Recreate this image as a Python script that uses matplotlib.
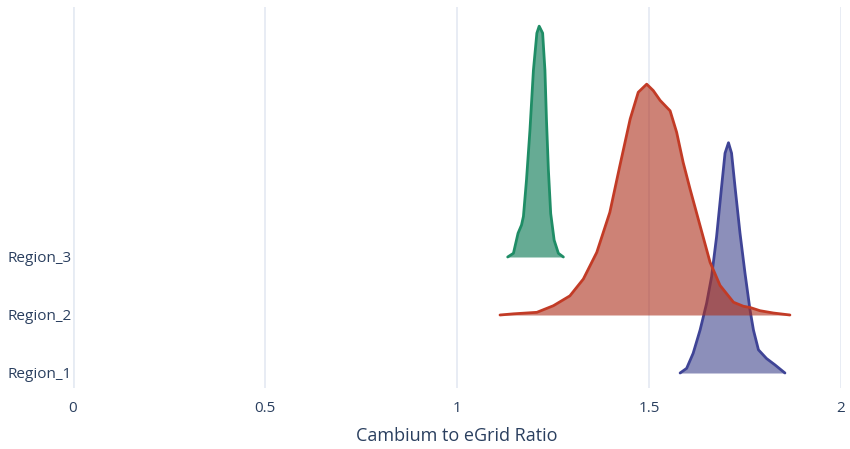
import matplotlib
matplotlib.use("Agg")
import matplotlib.pyplot as plt

categories = ["Region_1", "Region_2", "Region_3"]

# density outlines (x value, ridge height in category units)
r1_x = [1.581, 1.598, 1.615, 1.633, 1.650, 1.663, 1.676, 1.689, 1.698, 1.707,
        1.715, 1.724, 1.737, 1.750, 1.763, 1.772, 1.785, 1.806, 1.828, 1.854]
r1_h = [0.0, 0.08, 0.34, 0.74, 1.20, 1.66, 2.35, 3.21, 3.79, 3.97,
        3.79, 3.21, 2.41, 1.72, 1.09, 0.74, 0.40, 0.25, 0.14, 0.0]

r2_x = [1.112, 1.147, 1.208, 1.251, 1.294, 1.329, 1.364, 1.398, 1.424, 1.451,
        1.472, 1.494, 1.511, 1.529, 1.555, 1.572, 1.589, 1.607, 1.633, 1.659,
        1.685, 1.720, 1.746, 1.763, 1.789, 1.824, 1.867]
r2_h = [0.0, 0.02, 0.046, 0.16, 0.33, 0.62, 1.08, 1.77, 2.57, 3.38,
        3.84, 3.98, 3.87, 3.70, 3.52, 3.15, 2.63, 2.17, 1.54, 0.91,
        0.51, 0.22, 0.15, 0.13, 0.074, 0.034, 0.0]

r3_x = [1.132, 1.147, 1.159, 1.168, 1.173, 1.181, 1.190, 1.199, 1.208, 1.214,
        1.223, 1.229, 1.233, 1.238, 1.244, 1.253, 1.264, 1.277]
r3_h = [0.0, 0.064, 0.41, 0.55, 0.70, 1.33, 2.19, 3.22, 3.86, 3.98,
        3.86, 3.22, 2.36, 1.50, 0.75, 0.29, 0.064, 0.0]

xticks = [0, 0.5, 1, 1.5, 2]
xtick_labels = ["0", "0.5", "1", "1.5", "2"]
x_title = "Cambium to eGrid Ratio"

series = [(r1_x, r1_h), (r2_x, r2_h), (r3_x, r3_h)]
line_colors = ["#3f4496", "#c23b26", "#1f8d66"]
fill_colors = ["#3f448c", "#ac2f1b", "#00744d"]

plt.rcParams['font.family'] = ['Open Sans', 'DejaVu Sans']
fig = plt.figure(figsize=(8.5, 4.49), dpi=100)
ax = fig.add_axes([73/850, 1 - 388/449, (841-73)/850, (388-7)/449])

grid_c = "#e6ebf3"
for xv in xticks:
    ax.axvline(xv, color=grid_c, lw=1.3 if xv else 2, zorder=0)

for i, (xs, hs) in enumerate(series):
    base = i
    ys = [base + h for h in hs]
    ax.fill_between(xs, base, ys, color=fill_colors[i], alpha=0.6,
                    lw=0, zorder=2 + i)
    ax.plot(xs, ys, color=line_colors[i], lw=2, zorder=2.5 + i,
            solid_joinstyle='round', solid_capstyle='round')

ax.set_xlim(0, 2)
ax.set_ylim((373-388)/58, (373-7)/58)
ax.set_xticks(xticks)
ax.set_xticklabels(xtick_labels)
ax.set_yticks([0, 1, 2])
ax.set_yticklabels(categories)
ax.tick_params(axis='both', length=0, colors="#2a3f5f", labelsize=11)
ax.tick_params(axis='x', pad=9)
ax.tick_params(axis='y', pad=1)
for s in ax.spines.values():
    s.set_visible(False)
ax.set_xlabel(x_title, color="#2a3f5f", fontsize=13, labelpad=8)

fig.savefig("out.png", dpi=100)
